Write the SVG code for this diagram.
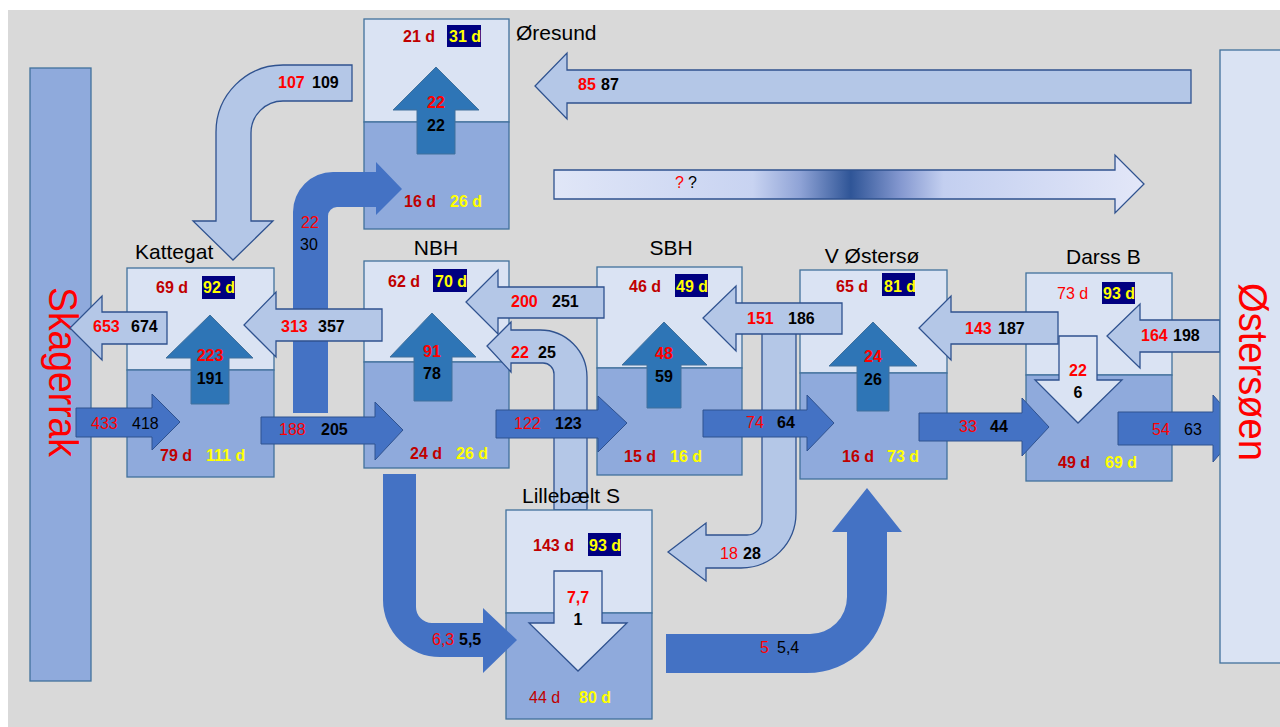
<svg xmlns="http://www.w3.org/2000/svg" width="1280" height="727" viewBox="0 0 1280 727">
<defs>
<style>
.bl{fill:#dae3f3;stroke:#41719c;stroke-width:1.3}
.bd{fill:#8faadc;stroke:#41719c;stroke-width:1.3}
.al{fill:#b4c7e7;stroke:#2f528f;stroke-width:1.3}
.am{fill:#4472c4;stroke:#2f528f;stroke-width:1}
.au{fill:#2e75b6;stroke:#41719c;stroke-width:1}
.ac{fill:#4472c4}
.aw{fill:#dae3f3;stroke:#2f528f;stroke-width:1.3}
.nv{fill:#000080}
text{font-family:"Liberation Sans",Arial,sans-serif;font-size:16px}
.b{font-weight:bold}
.dr{fill:#c00000}
.r{fill:#ff0000}
.y{fill:#ffff00}
.k{fill:#000000}
.lb{font-size:21px;fill:#000000}
.big{font-size:41px;fill:#ff0000}
</style>
<linearGradient id="gq" gradientUnits="userSpaceOnUse" x1="554" y1="0" x2="1144" y2="0">
<stop offset="0" stop-color="#e0e6f7"/>
<stop offset="0.337" stop-color="#c8d3f1"/>
<stop offset="0.417" stop-color="#8fa3d6"/>
<stop offset="0.503" stop-color="#2f5597"/>
<stop offset="0.586" stop-color="#8397cf"/>
<stop offset="0.66" stop-color="#c3cff0"/>
<stop offset="1" stop-color="#e3e7f8"/>
</linearGradient>
</defs>
<rect x="0" y="0" width="1280" height="727" fill="#ffffff"/>
<rect x="8" y="10" width="1272" height="717" fill="#d9d9d9"/>

<g id="skagerrak">
<rect x="30" y="68" width="61" height="613" class="bd"/>
<text class="big" transform="translate(49,372) rotate(90)" text-anchor="middle" textLength="170" lengthAdjust="spacingAndGlyphs">Skagerrak</text>
</g>

<g id="oresund">
<rect x="364" y="19" width="145" height="103" class="bl"/>
<rect x="364" y="122" width="145" height="107" class="bd"/>
<text class="lb" x="516" y="40">Øresund</text>
<text class="b dr" x="403" y="42">21 d</text>
<rect class="nv" x="447" y="25" width="34" height="22"/>
<text class="b y" x="449" y="42">31 d</text>
<path class="au" d="M417 154 V110 H393 L436 67 L479 110 H455 V154 Z"/>
<text class="b r" x="436" y="108" text-anchor="middle">22</text>
<text class="b k" x="436" y="131" text-anchor="middle">22</text>
<text class="b dr" x="404" y="207">16 d</text>
<text class="b y" x="450" y="207">26 d</text>
</g>

<g id="kattegat">
<rect x="127" y="268" width="147" height="102" class="bl"/>
<rect x="127" y="370" width="147" height="107" class="bd"/>
<text class="lb" x="135" y="259">Kattegat</text>
<text class="b dr" x="156" y="293">69 d</text>
<rect class="nv" x="202" y="276" width="33" height="23"/>
<text class="b y" x="203" y="293">92 d</text>
<path class="au" d="M191 404 V358 H166 L210 315 L253 358 H229 V404 Z"/>
<text class="b r" x="210" y="361" text-anchor="middle">223</text>
<text class="b k" x="210" y="384" text-anchor="middle">191</text>
<text class="b dr" x="160" y="461">79 d</text>
<text class="b y" x="206" y="461">111 d</text>
</g>

<g id="nbh">
<rect x="364" y="261" width="145" height="101" class="bl"/>
<rect x="364" y="362" width="145" height="106" class="bd"/>
<text class="lb" x="436" y="255" text-anchor="middle">NBH</text>
<text class="b dr" x="388" y="287">62 d</text>
<rect class="nv" x="433" y="269" width="34" height="23"/>
<text class="b y" x="435" y="287">70 d</text>
<path class="au" d="M414 401 V357 H390 L432 313 L476 357 H452 V401 Z"/>
<text class="b r" x="432" y="357" text-anchor="middle">91</text>
<text class="b k" x="432" y="379" text-anchor="middle">78</text>
<text class="b dr" x="410" y="459">24 d</text>
<text class="b y" x="456" y="459">26 d</text>
</g>

<g id="sbh">
<rect x="597" y="267" width="145" height="101" class="bl"/>
<rect x="597" y="368" width="145" height="107" class="bd"/>
<text class="lb" x="671" y="255" text-anchor="middle">SBH</text>
<text class="b dr" x="629" y="292">46 d</text>
<rect class="nv" x="675" y="274" width="33" height="23"/>
<text class="b y" x="676" y="292">49 d</text>
<path class="au" d="M647 408 V365 H622 L664 322 L707 365 H681 V408 Z"/>
<text class="b r" x="664" y="359" text-anchor="middle">48</text>
<text class="b k" x="664" y="382" text-anchor="middle">59</text>
<text class="b dr" x="624" y="462">15 d</text>
<text class="b y" x="670" y="462">16 d</text>
</g>

<g id="v-ostersoe">
<rect x="800" y="270" width="147" height="103" class="bl"/>
<rect x="800" y="373" width="147" height="106" class="bd"/>
<text class="lb" x="872" y="263" text-anchor="middle">V Østersø</text>
<text class="b dr" x="836" y="292">65 d</text>
<rect class="nv" x="882" y="273" width="33" height="23"/>
<text class="b y" x="884" y="292">81 d</text>
<path class="au" d="M857 411 V366 H829 L873 322 L917 366 H889 V411 Z"/>
<text class="b r" x="873" y="362" text-anchor="middle">24</text>
<text class="b k" x="873" y="385" text-anchor="middle">26</text>
<text class="b dr" x="842" y="462">16 d</text>
<text class="b y" x="887" y="462">73 d</text>
</g>

<g id="darss-b">
<rect x="1026" y="273" width="146" height="102" class="bl"/>
<rect x="1026" y="375" width="146" height="106" class="bd"/>
<text class="lb" x="1066" y="264">Darss B</text>
<text class="r" x="1057" y="299">73 d</text>
<rect class="nv" x="1102" y="282" width="33" height="22"/>
<text class="b y" x="1103" y="299">93 d</text>
<path class="aw" d="M1059 336 H1097 V380 H1122 L1078 423 L1035 380 H1059 Z"/>
<text class="b r" x="1078" y="376" text-anchor="middle">22</text>
<text class="b k" x="1078" y="398" text-anchor="middle">6</text>
<text class="b dr" x="1058" y="468">49 d</text>
<text class="b y" x="1105" y="468">69 d</text>
</g>

<g id="connectors-under">
<path class="al" d="M587 510 V377 A47 47 0 0 0 540 330 H511 V322 L487 346 L511 372 V363 H543 A11 11 0 0 1 554 374 V510 Z"/>
<text class="b r" x="511" y="358">22</text>
<text class="b k" x="538" y="358">25</text>
</g>

<g id="lillebaelt-s">
<rect x="506" y="510" width="146" height="103" class="bl"/>
<rect x="506" y="613" width="146" height="106" class="bd"/>
<text class="lb" x="522" y="503">Lillebælt S</text>
<text class="b dr" x="533" y="551">143 d</text>
<rect class="nv" x="588" y="533" width="33" height="23"/>
<text class="b y" x="589" y="551">93 d</text>
<path class="aw" d="M554 571 H602 V623 H627 L578 671 L529 623 H554 Z"/>
<text class="b r" x="578" y="603" text-anchor="middle">7,7</text>
<text class="b k" x="578" y="625" text-anchor="middle">1</text>
<text class="dr" x="529" y="703">44 d</text>
<text class="b y" x="579" y="703">80 d</text>
</g>

<g id="connectors">
<path class="al" d="M352 65 H283 A67 67 0 0 0 216 132 V221 H193 L233 260 L273 221 H251 V133 A32 32 0 0 1 283 101 H352 Z"/>
<text class="b r" x="278" y="88">107</text>
<text class="b k" x="312" y="88">109</text>

<path class="ac" d="M293 413 V212 A40 40 0 0 1 333 172 H376 V162 L402 189 L376 215 V207 H337 A9 9 0 0 0 328 216 V413 Z"/>
<text class="r" x="301" y="228">22</text>
<text class="k" x="300" y="250">30</text>

<path class="al" d="M1191 70 H567 V53 L535 86 L567 119 V103 H1191 Z"/>
<text class="b r" x="578" y="90">85</text>
<text class="b k" x="601" y="90">87</text>

<path d="M554 170 H1115 V155 L1144 184 L1115 213 V199 H554 Z" fill="url(#gq)" stroke="#2f528f" stroke-width="1.3"/>
<text class="r" x="675" y="188">?</text>
<text class="k" x="688" y="188">?</text>

<path class="al" d="M167 312 H102 V296 L70 328 L102 360 V344 H167 Z"/>
<text class="b r" x="93" y="332">653</text>
<text class="b k" x="131" y="332">674</text>

<path class="am" d="M76 408 H152 V394 L180 422 L152 450 V437 H76 Z"/>
<text class="r" x="91" y="429">433</text>
<text class="k" x="132" y="429">418</text>

<path class="al" d="M382 309 H276 V292 L244 325 L276 357 V341 H382 Z"/>
<text class="b r" x="281" y="332">313</text>
<text class="b k" x="318" y="332">357</text>

<path class="am" d="M261 417 H375 V402 L403 430 L375 460 V444 H261 Z"/>
<text class="r" x="279" y="435">188</text>
<text class="b k" x="321" y="435">205</text>

<path class="al" d="M604 287 H498 V270 L466 302 L498 334 V318 H604 Z"/>
<text class="b r" x="511" y="307">200</text>
<text class="b k" x="552" y="307">251</text>

<path class="am" d="M496 410 H598 V396 L627 423 L598 452 V438 H496 Z"/>
<text class="r" x="514" y="429">122</text>
<text class="b k" x="555" y="429">123</text>

<path class="al" d="M796 320 V513 A55 55 0 0 1 741 568 H706 V581 L668 552 L706 523 V535 H747 A15 15 0 0 0 762 520 V320 Z"/>
<text class="r" x="720" y="559">18</text>
<text class="b k" x="743" y="559">28</text>

<path class="al" d="M842 303 H736 V286 L703 318 L736 351 V334 H842 Z"/>
<text class="b r" x="747" y="324">151</text>
<text class="b k" x="788" y="324">186</text>

<path class="am" d="M703 410 H807 V395 L834 423 L807 451 V437 H703 Z"/>
<text class="r" x="746" y="428">74</text>
<text class="b k" x="777" y="428">64</text>

<path class="al" d="M1058 312 H951 V296 L919 328 L951 360 V344 H1058 Z"/>
<text class="b r" x="965" y="334">143</text>
<text class="b k" x="998" y="334">187</text>

<path class="am" d="M919 413 H1022 V398 L1049 427 L1022 456 V441 H919 Z"/>
<text class="r" x="959" y="432">33</text>
<text class="b k" x="990" y="432">44</text>

<path class="al" d="M1220 320 H1140 V304 L1107 336 L1140 368 V352 H1220 Z"/>
<text class="b r" x="1141" y="341">164</text>
<text class="b k" x="1173" y="341">198</text>

<path class="am" d="M1118 412 H1213 V395 L1242 428 L1213 462 V445 H1118 Z"/>
<text class="r" x="1152" y="435">54</text>
<text class="k" x="1184" y="435">63</text>

<path class="ac" d="M383 474 V600 A57 57 0 0 0 440 657 H483 V673 L517 640 L483 608 V623 H432 A16 16 0 0 1 416 607 V474 Z"/>
<text class="r" x="432" y="645">6,3</text>
<text class="b k" x="459" y="645">5,5</text>

<path class="ac" d="M666 673 H807 A80 80 0 0 0 887 593 V532 H902 L867 488 L832 532 H847 V597 A37 37 0 0 1 810 634 H666 Z"/>
<text class="r" x="760" y="653">5</text>
<text class="k" x="777" y="653">5,4</text>
</g>

<g id="ostersoen">
<rect x="1220" y="50" width="70" height="613" class="bl"/>
<text class="big" transform="translate(1239,372) rotate(90)" text-anchor="middle" textLength="178" lengthAdjust="spacingAndGlyphs">Østersøen</text>
</g>
</svg>
